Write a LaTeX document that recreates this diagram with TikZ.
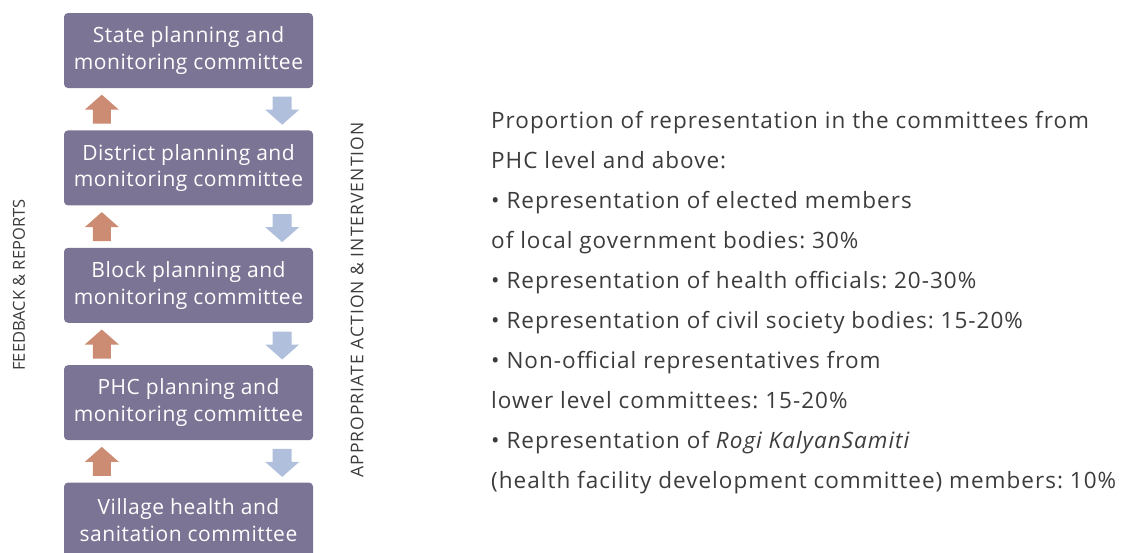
\documentclass[tikz,border=0pt]{standalone}
\usepackage{fontspec}
\setmainfont{Open Sans}
\newfontfamily\boxfont[LetterSpace=2.5]{Open Sans}
\newfontfamily\listfont[LetterSpace=4.5]{Open Sans}
\newfontfamily\actionfont[LetterSpace=6]{Open Sans}
\frenchspacing
\usetikzlibrary{positioning,calc}
\definecolor{boxfill}{RGB}{123,116,148}
\definecolor{uparr}{RGB}{204,139,115}
\definecolor{downarr}{RGB}{176,192,220}
\definecolor{txtgray}{RGB}{60,60,60}
\tikzset{
	committee/.style={fill=boxfill,rounded corners=4pt,minimum width=249pt,minimum height=75pt,inner sep=0pt,
		text=white,align=center,font=\boxfont\fontsize{21}{26.7}\selectfont},
	sidelabel/.style={rotate=90,text=txtgray,font=\fontsize{16.5}{18}\selectfont},
	uparrow/.pic={\fill[uparr] (-9,14.5)--(-9,0.5)--(-17,0.5)--(0,-14.5)--(17,0.5)--(9,0.5)--(9,14.5)--cycle;},
	downarrow/.pic={\fill[downarr] (-9.5,-14)--(-9.5,-1)--(-17,-1)--(0,14)--(17,-1)--(9.5,-1)--(9.5,-14)--cycle;}
}
\begin{document}
\begin{tikzpicture}[x=1pt,y=-1pt]
		\useasboundingbox (0,0) rectangle (1126,552);
		\node[committee] (state) at (188.5,50.5) {State planning and\\monitoring committee};
		\node[committee,below=42pt of state] (district) {District planning and\\monitoring committee};
		\node[committee,below=42pt of district] (block) {Block planning and\\monitoring committee};
		\node[committee,below=42pt of block] (phc) {PHC planning and\\monitoring committee};
		\node[committee,below=42pt of phc] (village) {Village health and\\sanitation committee};
		\foreach \a/\b in {state/district,district/block,block/phc,phc/village}{
			\pic at ($(\a.south west)!.5!(\b.north west)+(38,0)$) {uparrow};
			\pic at ($(\a.south east)!.5!(\b.north east)+(-31,1.5)$) {downarrow};
		}
		\node[sidelabel] (feedback) at (19,285) {FEEDBACK \& REPORTS};
		\node[sidelabel,font=\actionfont\fontsize{17.5}{18}\selectfont] (action) at (357,300) {APPROPRIATE ACTION \& INTERVENTION};
		\node[anchor=north west,inner sep=0pt,align=left,text=txtgray,font=\listfont\fontsize{22.5}{40}\selectfont] (proportion) at (491,111.5)
			{Proportion of representation in the committees from\\
			PHC level and above:\\
			• Representation of elected members\\
			of local government bodies: 30\%\\
			• Representation of health officials: 20-30\%\\
			• Representation of civil society bodies: 15-20\%\\
			• Non-official representatives from\\
			lower level committees: 15-20\%\\
			• Representation of \textit{Rogi KalyanSamiti}\\
			(health facility development committee) members: 10\%};
	\end{tikzpicture}
\end{document}
